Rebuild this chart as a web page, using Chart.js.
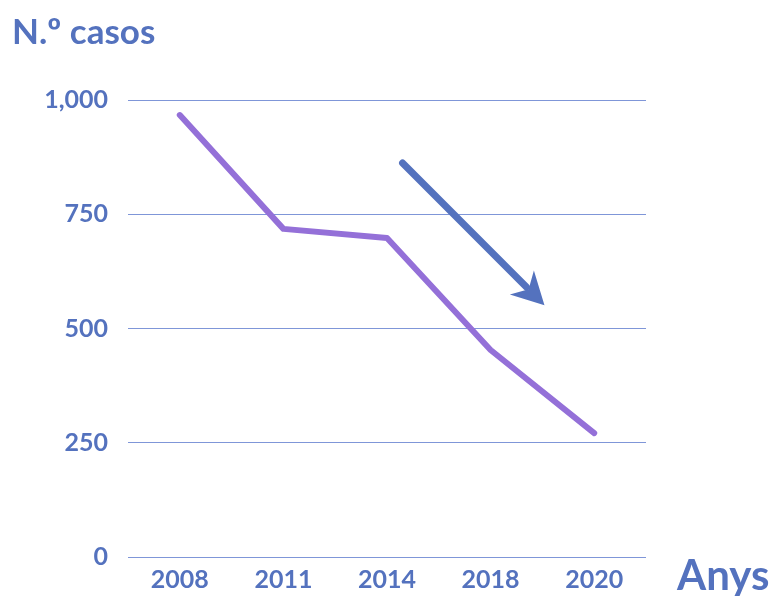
<!DOCTYPE html>
<html>
<head>
<meta charset="utf-8">
<script src="https://cdn.jsdelivr.net/npm/chart.js@4/dist/chart.umd.min.js"></script>
<style>
  html, body { margin: 0; padding: 0; background: #fff; }
  #wrap { width: 774px; height: 596px; position: relative; }
</style>
</head>
<body>
<div id="wrap"><canvas id="myChart"></canvas></div>
<script>
const years = ['2008', '2011', '2014', '2018', '2020'];
const cases = [967, 718, 698, 453, 271];
const yTicks = [0, 250, 500, 750, 1000];
// trend arrow, in chart units (category index, value)
const arrowFrom = [2.15, 862];
const arrowTo = [3.52, 551];

const blue = '#5472be';
const purple = '#9470d8';

const extras = {
  id: 'extras',
  afterDatasetsDraw(chart) {
    const { ctx, scales: { x, y } } = chart;
    const x1 = x.getPixelForValue(arrowFrom[0]), y1 = y.getPixelForValue(arrowFrom[1]);
    const x2 = x.getPixelForValue(arrowTo[0]), y2 = y.getPixelForValue(arrowTo[1]);
    const ang = Math.atan2(y2 - y1, x2 - x1);
    const headLen = 32, headW = 17;
    ctx.save();
    ctx.strokeStyle = blue;
    ctx.fillStyle = blue;
    ctx.lineWidth = 7;
    ctx.lineCap = 'round';
    ctx.beginPath();
    ctx.moveTo(x1, y1);
    ctx.lineTo(x2 - Math.cos(ang) * headLen * 0.8, y2 - Math.sin(ang) * headLen * 0.8);
    ctx.stroke();
    ctx.beginPath();
    ctx.moveTo(x2, y2);
    ctx.lineTo(x2 - Math.cos(ang) * headLen - Math.sin(ang) * headW, y2 - Math.sin(ang) * headLen + Math.cos(ang) * headW);
    ctx.lineTo(x2 - Math.cos(ang) * headLen * 0.7, y2 - Math.sin(ang) * headLen * 0.7);
    ctx.lineTo(x2 - Math.cos(ang) * headLen + Math.sin(ang) * headW, y2 - Math.sin(ang) * headLen - Math.cos(ang) * headW);
    ctx.closePath();
    ctx.fill();

    // x-axis name, sits to the right of the tick labels
    ctx.font = 'bold 42px Lato';
    ctx.textAlign = 'left';
    ctx.textBaseline = 'middle';
    ctx.fillText('Anys', 677, 576);
    ctx.restore();
  }
};

new Chart(document.getElementById('myChart'), {
  type: 'line',
  data: {
    labels: years,
    datasets: [{
      data: cases,
      borderColor: purple,
      borderWidth: 6,
      pointRadius: 0,
      tension: 0,
      borderCapStyle: 'round',
      borderJoinStyle: 'round'
    }]
  },
  options: {
    responsive: true,
    maintainAspectRatio: false,
    animation: false,
    layout: { padding: { left: 12, right: 128, top: 0, bottom: 1 } },
    scales: {
      x: {
        offset: true,
        afterFit: (axis) => { axis.height = 38; },
        grid: { display: false, drawTicks: false },
        border: { display: false },
        ticks: { color: blue, font: { family: 'Lato', size: 25, weight: 'bold' }, padding: 8 }
      },
      y: {
        min: 0,
        max: 1000,
        afterBuildTicks: (axis) => { axis.ticks = yTicks.map(v => ({ value: v })); },
        afterFit: (axis) => { axis.width = 116; },
        grid: { color: '#7f96d8', lineWidth: 1, drawTicks: false },
        border: { display: false },
        ticks: { color: blue, font: { family: 'Lato', size: 25, weight: 'bold' }, padding: 20 }
      }
    },
    plugins: {
      legend: { display: false },
      tooltip: { enabled: false },
      title: {
        display: true,
        text: 'N.º casos',
        align: 'start',
        color: blue,
        font: { family: 'Lato', size: 35, weight: 'bold' },
        padding: { top: 12, bottom: 46 }
      }
    }
  },
  plugins: [extras]
});
</script>
</body>
</html>
